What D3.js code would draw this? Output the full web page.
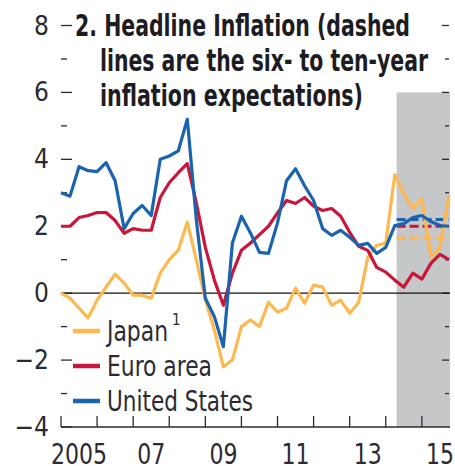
<!DOCTYPE html>
<html>
<head>
<meta charset="utf-8">
<script src="https://cdn.jsdelivr.net/npm/d3@7"></script>
<style>
  body { margin: 0; background: #fff; }
  svg { display: block; }
  text { font-family: 'Liberation Sans Narrow', 'DejaVu Sans Condensed', 'Roboto Condensed', sans-serif; fill: #2b2a33; }
</style>
</head>
<body>
<div class="canvas"></div>
<script>
// quarterly data, first point = 2005 Q1
const startYear = 2005;
const japan = [0.0, -0.15, -0.45, -0.74, -0.21, 0.18, 0.57, 0.3, -0.06, -0.06, -0.15,
  0.6, 1.0, 1.28, 2.12, 1.0, -0.2, -1.1, -2.2, -2.0, -1.0, -0.8, -1.0, -0.27, -0.57,
  -0.45, 0.15, -0.3, 0.24, 0.18, -0.36, -0.21, -0.6, -0.27, 1.07, 1.43, 1.49, 3.54,
  2.98, 2.53, 2.83, 1.07, 1.37, 2.92];
const euro = [2.0, 2.0, 2.26, 2.32, 2.41, 2.41, 2.17, 1.79, 1.93, 1.88, 1.88,
  2.86, 3.3, 3.6, 3.87, 2.7, 1.37, 0.39, -0.36, 0.6, 1.28, 1.5, 1.75, 2.0, 2.4,
  2.77, 2.68, 2.86, 2.6, 2.47, 2.53, 2.3, 1.82, 1.4, 1.28, 0.77, 0.63, 0.39,
  0.18, 0.6, 0.42, 0.89, 1.16, 1.0];
const us = [3.0, 2.9, 3.78, 3.66, 3.63, 3.9, 3.36, 1.93, 2.38, 2.62, 2.32,
  4.0, 4.1, 4.25, 5.2, 2.2, -0.15, -0.7, -1.6, 1.5, 2.3, 1.8, 1.22, 1.19, 2.1,
  3.36, 3.72, 3.21, 2.77, 1.93, 1.73, 1.88, 1.67, 1.43, 1.49, 1.19, 1.37, 2.02,
  2.08, 2.26, 2.32, 2.14, 2.02, 2.0];

// six- to ten-year inflation expectations (dashed)
const expectations = [
  { name: 'United States', value: 2.2 },
  { name: 'Euro area', value: 2.0 },
  { name: 'Japan', value: 1.65 }
];

const projection = [2014.3, 2015.78];   // shaded years
const yearLabels = ['2005', '07', '09', '11', '13', '15'];
const yearTicks = d3.range(2005, 2016);
const yMajor = [-4, -2, 0, 2, 4, 6, 8];
const yMinor = [-3, -1, 1, 3, 5, 7];

const colors = { 'Japan': '#fdb94f', 'Euro area': '#c8173a', 'United States': '#1a63ae' };

const width = 455, height = 466;
const svg = d3.select('.canvas').append('svg')
  .attr('width', width).attr('height', height);

const x = d3.scaleLinear().domain([2005, 2015.78]).range([61, 450]);
const y = d3.scaleLinear().domain([-4, 8]).range([427, 25.5]);

// shaded projection area
svg.append('rect')
  .attr('x', x(projection[0]))
  .attr('width', x(projection[1]) - x(projection[0]))
  .attr('y', y(6))
  .attr('height', y(-4) - y(6))
  .attr('fill', '#c6c7c9');

// left ticks + labels
svg.selectAll('.ltick').data(yMajor.concat(yMinor)).enter()
  .append('line')
  .attr('x1', 61).attr('x2', d => yMajor.includes(d) ? 72 : 67)
  .attr('y1', d => y(d)).attr('y2', d => y(d))
  .attr('stroke', '#2b2a33').attr('stroke-width', 1.3);

svg.selectAll('.rtick').data(yMajor.concat(yMinor).filter(d => d > -4)).enter()
  .append('line')
  .attr('x1', d => yMajor.includes(d) ? 442 : 445).attr('x2', 449)
  .attr('y1', d => y(d)).attr('y2', d => y(d))
  .attr('stroke', '#2b2a33').attr('stroke-width', 1.3);

svg.selectAll('.ylab').data(yMajor).enter()
  .append('text')
  .attr('x', 49).attr('y', d => y(d) + 9)
  .attr('text-anchor', 'end')
  .attr('font-size', 26)
  .text(d => d < 0 ? '\u2212' + Math.abs(d) : d);

// zero line
svg.append('line')
  .attr('x1', 61).attr('x2', 450)
  .attr('y1', y(0)).attr('y2', y(0))
  .attr('stroke', '#111').attr('stroke-width', 1.2);

// bottom axis
svg.append('line')
  .attr('x1', 61).attr('x2', 450)
  .attr('y1', y(-4)).attr('y2', y(-4))
  .attr('stroke', '#2b2a33').attr('stroke-width', 1.5);

svg.selectAll('.xtick').data(yearTicks).enter()
  .append('line')
  .attr('x1', d => x(d)).attr('x2', d => x(d))
  .attr('y1', y(-4)).attr('y2', y(-4) - 11)
  .attr('stroke', '#2b2a33').attr('stroke-width', 1.3);

svg.selectAll('.xlab').data(yearLabels).enter()
  .append('text')
  .attr('x', (d, i) => x(2005 + i * 2 + 0.5))
  .attr('y', 464)
  .attr('text-anchor', 'middle')
  .attr('font-size', 28)
  .attr('textLength', d => d.length * 14)
  .attr('lengthAdjust', 'spacingAndGlyphs')
  .text(d => d);

// series
const line = d3.line()
  .x((d, i) => x(startYear + i / 4))
  .y(d => y(d));

const series = [
  { name: 'Japan', values: japan, w: 61 },
  { name: 'Euro area', values: euro, w: 105 },
  { name: 'United States', values: us, w: 146 }
];

// dashed expectations
svg.selectAll('.exp').data(expectations.slice().reverse()).enter()
  .append('line')
  .attr('x1', x(projection[0])).attr('x2', x(2015.75))
  .attr('y1', d => y(d.value)).attr('y2', d => y(d.value))
  .attr('stroke', d => colors[d.name])
  .attr('stroke-width', 3)
  .attr('stroke-dasharray', '9,4');

svg.selectAll('.series').data(series).enter()
  .append('path')
  .attr('fill', 'none')
  .attr('stroke', d => colors[d.name])
  .attr('stroke-width', 3.2)
  .attr('stroke-linejoin', 'round')
  .attr('d', d => line(d.values));

// legend
const legend = svg.selectAll('.legend').data(series).enter()
  .append('g')
  .attr('transform', (d, i) => `translate(73, ${331 + i * 35})`);

legend.append('line')
  .attr('x1', 0).attr('x2', 27)
  .attr('stroke', d => colors[d.name])
  .attr('stroke-width', 4.5);

legend.append('text')
  .attr('x', 34).attr('y', 10)
  .attr('font-size', 28)
  .attr('textLength', d => d.w)
  .attr('lengthAdjust', 'spacingAndGlyphs')
  .text(d => d.name);

legend.filter(d => d.name === 'Japan')
  .append('text')
  .attr('x', 99).attr('y', -6)
  .attr('font-size', 15)
  .text('1');

// title
const titleLines = [
  { text: '2. Headline Inflation (dashed', x: 75, y: 36, w: 335 },
  { text: 'lines are the six- to ten-year', x: 100, y: 71, w: 328 },
  { text: 'inflation expectations)', x: 100, y: 106, w: 263 }
];
svg.selectAll('.title').data(titleLines).enter()
  .append('text')
  .attr('x', d => d.x).attr('y', d => d.y)
  .attr('font-size', 31)
  .attr('font-weight', 'bold')
  .attr('textLength', d => d.w)
  .attr('lengthAdjust', 'spacingAndGlyphs')
  .style('fill', '#1d1c22')
  .text(d => d.text);
</script>
</body>
</html>
